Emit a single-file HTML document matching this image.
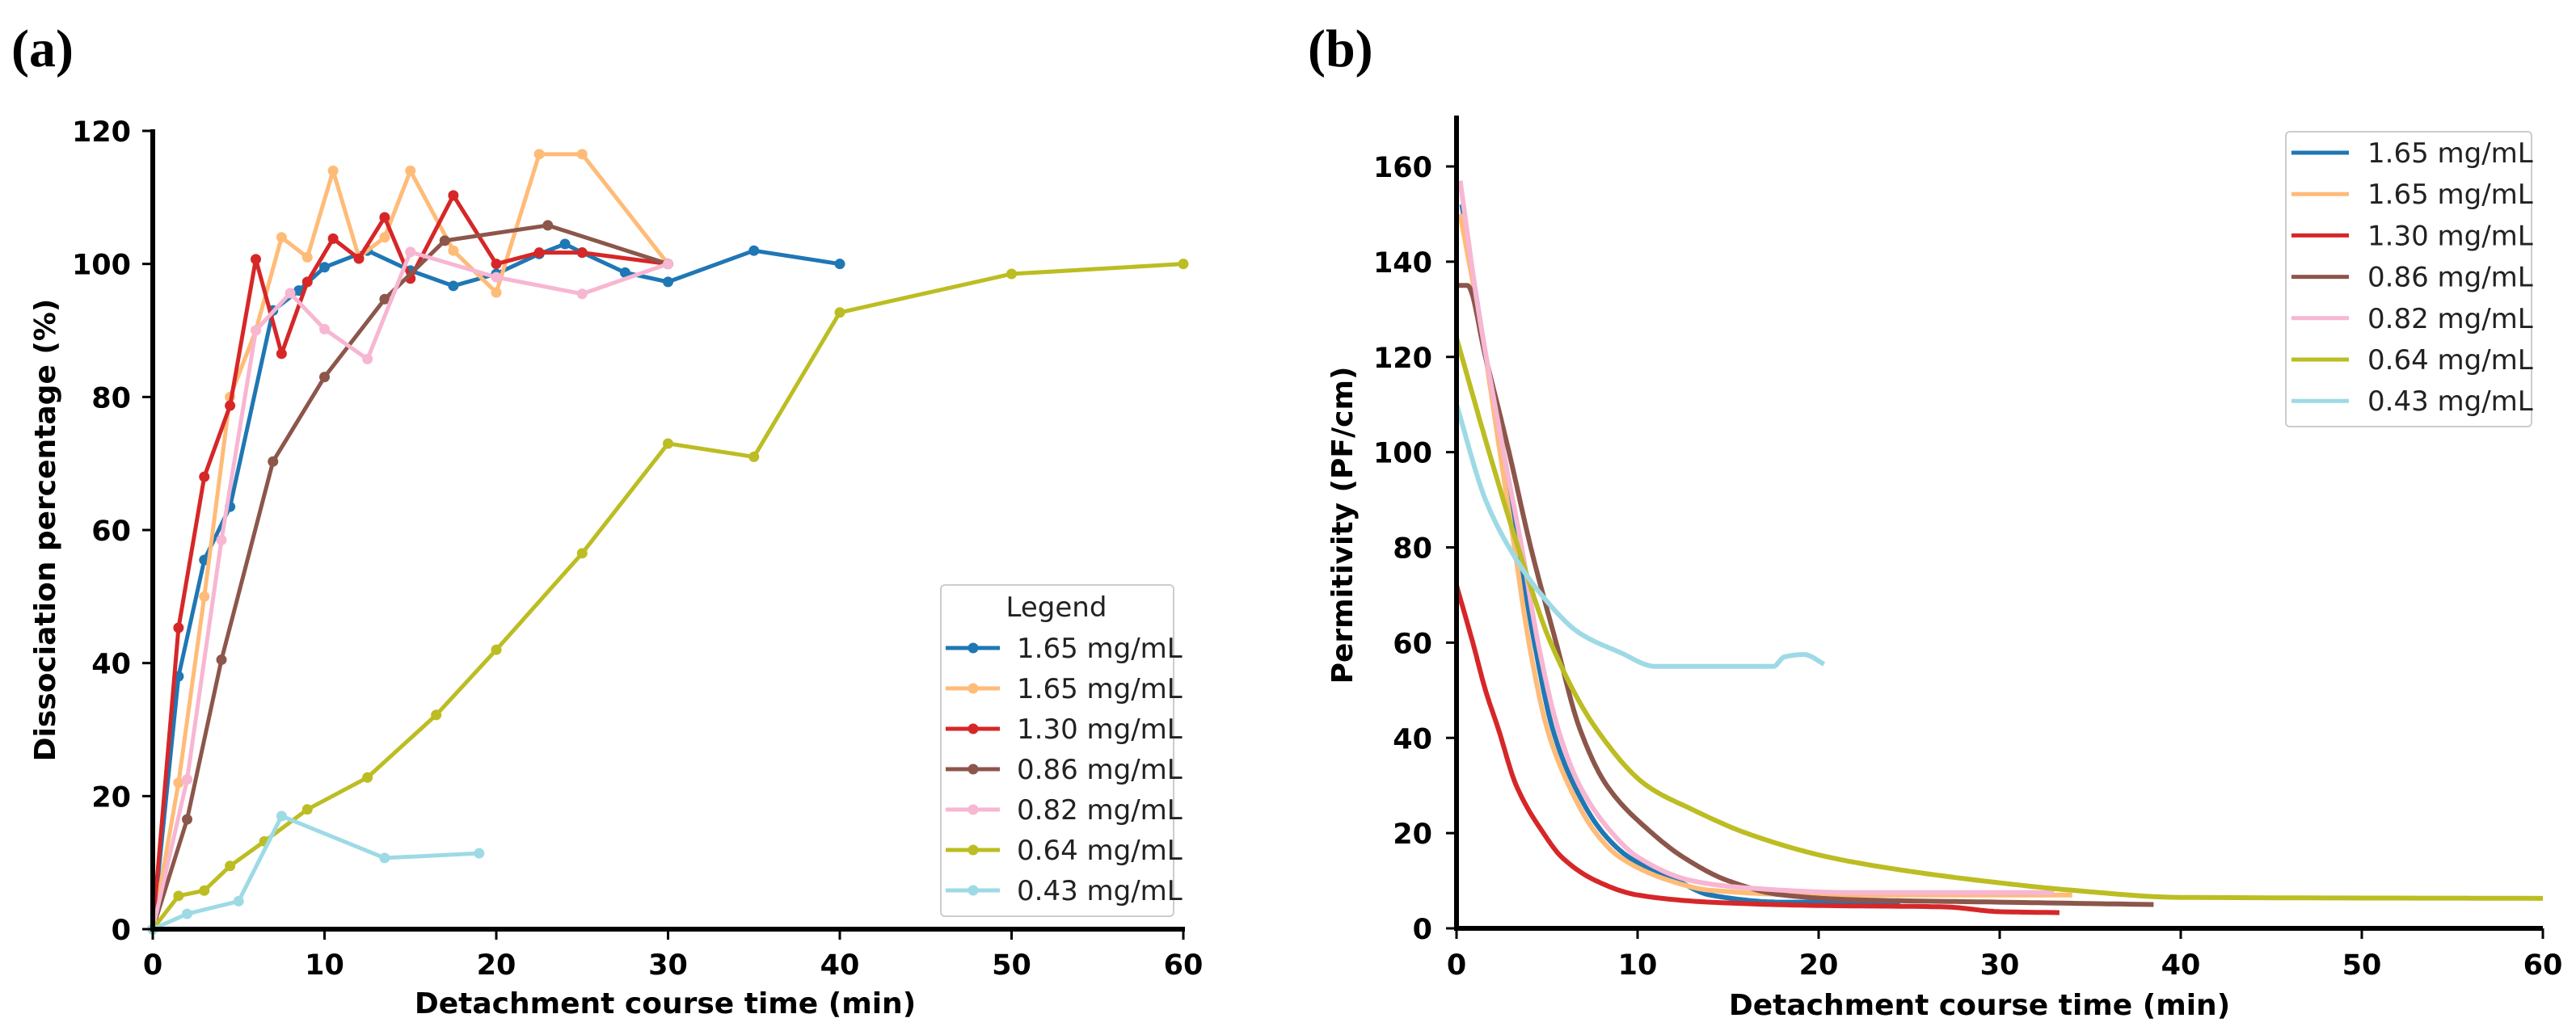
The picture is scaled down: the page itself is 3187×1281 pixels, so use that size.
<!DOCTYPE html>
<html><head><meta charset="utf-8"><style>
html,body{margin:0;padding:0;background:#fff;}
svg{display:block;}
text{font-family:"DejaVu Sans","Liberation Sans",sans-serif;}
.tk{font-weight:bold;font-size:35px;fill:#000;}
.lb{font-weight:bold;font-size:36px;fill:#000;}
.lg{font-size:34px;fill:#222;}
.pn{font-family:"Liberation Serif",serif;font-weight:bold;font-size:66px;}
</style></head><body>
<svg id="s" width="3187" height="1281" viewBox="0 0 3187 1281" xmlns="http://www.w3.org/2000/svg">
<text class="pn" x="14" y="82">(a)</text>
<text class="pn" x="1618" y="82">(b)</text>
<text class="lb" x="823" y="1254" text-anchor="middle">Detachment course time (min)</text>
<text class="lb" x="2449" y="1256" text-anchor="middle">Detachment course time (min)</text>
<text class="lb" transform="translate(68,656) rotate(-90)" text-anchor="middle">Dissociation percentage (%)</text>
<text class="lb" transform="translate(1673,650) rotate(-90)" text-anchor="middle">Permitivity (PF/cm)</text>
<g id="g"></g>
</svg>
<script>
const NS="http://www.w3.org/2000/svg",G=document.getElementById('g');
function el(t,a,txt){const e=document.createElementNS(NS,t);for(const k in a)e.setAttribute(k,a[k]);if(txt!=null)e.textContent=txt;G.appendChild(e);return e;}
const C=['#1f77b4','#ffbb78','#d62728','#8c564b','#f7b6d2','#bcbd22','#9edae5'];
const L=['1.65 mg/mL','1.65 mg/mL','1.30 mg/mL','0.86 mg/mL','0.82 mg/mL','0.64 mg/mL','0.43 mg/mL'];
// Panel A
const ax=t=>189+t*21.25, ay=v=>1150-v*(988/120);
const A=[
[[0,0],[1.5,38],[3,55.5],[4.5,63.5],[7,93],[8.5,96],[10,99.5],[12.5,102],[15,99],[17.5,96.7],[20,98.5],[22.5,101.5],[24,103],[25,101.7],[27.5,98.7],[30,97.3],[35,102],[40,100]],
[[0,0],[1.5,22],[3,50],[4.5,80],[6,90],[7.5,104],[9,101],[10.5,114],[12,101],[13.5,104],[15,114],[17.5,102],[20,95.7],[22.5,116.5],[25,116.5],[30,100]],
[[0,0],[1.5,45.3],[3,68],[4.5,78.7],[6,100.7],[7.5,86.5],[9,97.3],[10.5,103.8],[12,100.8],[13.5,107],[15,97.8],[17.5,110.3],[20,100],[22.5,101.7],[25,101.7],[30,100]],
[[0,0],[2,16.5],[4,40.5],[7,70.3],[10,83],[13.5,94.7],[17,103.5],[23,105.8],[30,100]],
[[0,0],[2,22.5],[4,58.5],[6,90],[8,95.6],[10,90.2],[12.5,85.7],[15,101.8],[20,98],[25,95.5],[30,100]],
[[0,0],[1.5,5],[3,5.8],[4.5,9.5],[6.5,13.2],[9,18],[12.5,22.8],[16.5,32.2],[20,42],[25,56.5],[30,73],[35,71],[40,92.7],[50,98.5],[60,100]],
[[0,0],[2,2.3],[5,4.2],[7.5,17],[13.5,10.7],[19,11.4]]];
A.forEach((s,i)=>{el('polyline',{points:s.map(p=>ax(p[0])+','+ay(p[1])).join(' '),fill:'none',stroke:C[i],'stroke-width':5,'stroke-linejoin':'round'});
 s.forEach(p=>el('circle',{cx:ax(p[0]),cy:ay(p[1]),r:6.5,fill:C[i]}));});
el('line',{x1:189,y1:160,x2:189,y2:1153,stroke:'#000','stroke-width':6});
el('line',{x1:186,y1:1150,x2:1466,y2:1150,stroke:'#000','stroke-width':6});
for(let v=0;v<=120;v+=20){const y=ay(v);el('line',{x1:176,y1:y,x2:189,y2:y,stroke:'#000','stroke-width':3});el('text',{class:'tk',x:162,y:y+13,'text-anchor':'end'},v);}
for(let t=0;t<=60;t+=10){const x=ax(t);el('line',{x1:x,y1:1150,x2:x,y2:1163,stroke:'#000','stroke-width':3});el('text',{class:'tk',x:x,y:1206,'text-anchor':'middle'},t);}
el('rect',{x:1164,y:724,width:288,height:410,rx:5,fill:'#fff','fill-opacity':0.85,stroke:'#ccc','stroke-width':2});
el('text',{class:'lg',x:1307,y:763,'text-anchor':'middle'},'Legend');
for(let i=0;i<7;i++){const y=802+i*50;el('line',{x1:1170,y1:y,x2:1237,y2:y,stroke:C[i],'stroke-width':5});el('circle',{cx:1204,cy:y,r:6.5,fill:C[i]});el('text',{class:'lg',x:1258,y:y+12},L[i]);}
// Panel B
const bx=t=>1802+t*22.4, by=v=>1149-v*(943/160);
const B=[
[[0.3,152],[1.2,130],[2.5,100],[3.4,80],[4.3,60],[5.3,42],[6.5,30],[8.1,20],[9.5,15],[12.2,10],[14,7],[18,5.5],[24.5,5.5]],
[[0.2,150],[1.4,125],[2.4,100],[3.2,80],[4.0,60],[5.0,42],[6.2,30],[7.7,20],[9,15],[11.8,10],[14,8],[20,7],[34,7]],
[[0,72],[0.9,60],[1.6,50],[2.3,42],[3.3,30],[4.8,20],[5.8,15],[7.7,10],[10,7],[14,5.5],[20,4.8],[27,4.5],[30,3.5],[33.3,3.3]],
[[0,135],[0.6,135],[1.6,120],[2.9,100],[4.1,80],[5.5,60],[6.8,42],[8.3,30],[10.8,20],[12.5,15],[15,10],[18,7],[22,6],[30,5.5],[38.5,5]],
[[0.2,157],[1.2,130],[2.6,100],[3.6,80],[4.5,60],[5.6,42],[6.8,30],[8.6,20],[10,15],[13,10],[16,8.5],[22,7.5],[33,7.5]],
[[0,124],[1.8,100],[3.4,80],[5.2,60],[7.7,42],[10.5,30],[13,25],[16,20],[20.5,15],[25,12],[29,10],[34,8],[40,6.5],[60,6.3]],
[[0,110],[1.6,90],[2.9,80],[4.7,70],[6.8,62],[9,58],[11,55],[17.5,55],[18.1,57],[19.2,57.5],[20.3,55.5]]];
function mono(p){const n=p.length,x=p.map(q=>q[0]),y=p.map(q=>q[1]),d=[],m=[];
 for(let i=0;i<n-1;i++)d.push((y[i+1]-y[i])/(x[i+1]-x[i]));
 m[0]=d[0];m[n-1]=d[n-2];
 for(let i=1;i<n-1;i++){if(d[i-1]*d[i]<=0)m[i]=0;else{const w1=2*(x[i+1]-x[i])+(x[i]-x[i-1]),w2=(x[i+1]-x[i])+2*(x[i]-x[i-1]);m[i]=(w1+w2)/(w1/d[i-1]+w2/d[i]);}}
 const out=[];
 for(let i=0;i<n-1;i++){const h=x[i+1]-x[i];for(let k=0;k<20;k++){const t=k/20,t2=t*t,t3=t2*t;
  const v=(2*t3-3*t2+1)*y[i]+(t3-2*t2+t)*h*m[i]+(-2*t3+3*t2)*y[i+1]+(t3-t2)*h*m[i+1];out.push([x[i]+t*h,v]);}}
 out.push([x[n-1],y[n-1]]);return out;}
B.forEach((s,i)=>el('polyline',{points:mono(s).map(p=>bx(p[0]).toFixed(1)+','+by(p[1]).toFixed(1)).join(' '),fill:'none',stroke:C[i],'stroke-width':6,'stroke-linejoin':'round'}));
el('line',{x1:1802,y1:143,x2:1802,y2:1152,stroke:'#000','stroke-width':6});
el('line',{x1:1799,y1:1149,x2:3146,y2:1149,stroke:'#000','stroke-width':6});
for(let v=0;v<=160;v+=20){const y=by(v);el('line',{x1:1789,y1:y,x2:1802,y2:y,stroke:'#000','stroke-width':3});el('text',{class:'tk',x:1772,y:y+13,'text-anchor':'end'},v);}
for(let t=0;t<=60;t+=10){const x=bx(t);el('line',{x1:x,y1:1149,x2:x,y2:1162,stroke:'#000','stroke-width':3});el('text',{class:'tk',x:x,y:1206,'text-anchor':'middle'},t);}
el('rect',{x:2828,y:163,width:304,height:365,rx:5,fill:'#fff','fill-opacity':0.85,stroke:'#ccc','stroke-width':2});
for(let i=0;i<7;i++){const y=189+i*51.2;el('line',{x1:2835,y1:y,x2:2906,y2:y,stroke:C[i],'stroke-width':5});el('text',{class:'lg',x:2929,y:y+12},L[i]);}
</script>
</body></html>
